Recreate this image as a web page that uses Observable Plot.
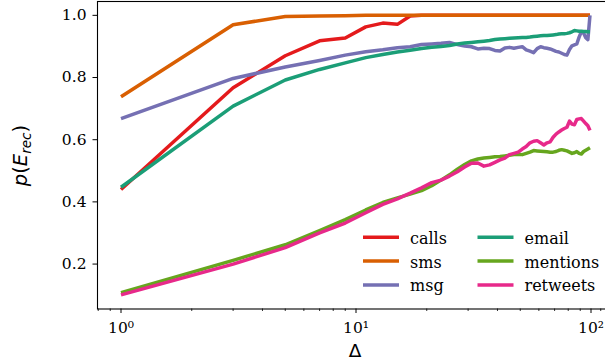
<!DOCTYPE html>
<html>
<head>
<meta charset="utf-8">
<script src="https://cdn.jsdelivr.net/npm/d3@7"></script>
<script src="https://cdn.jsdelivr.net/npm/@observablehq/plot@0.6"></script>
<style>
  html, body { margin: 0; padding: 0; background: #fff; overflow: hidden; width: 605px; height: 362px; }
  #chart svg { display: block; max-width: none !important; }
</style>
</head>
<body>
<div id="chart"></div>
<script>
// ---- data ----
const deltas = [1,3,5,7,9,11,13,15,17,19,21,23,25,27,29,31,33,35,37,39,41,43,45,47,49,
                51,53,55,57,59,61,63,65,67,69,71,73,75,77,79,81,83,85,87,89,91,93,95,97,99];

const calls = [0.440,0.767,0.870,0.918,0.927,0.963,0.975,0.971,0.998,1.0,1.0,1.0,1.0,1.0,1.0,1.0,1.0,1.0,1.0,1.0,1.0,1.0,1.0,1.0,1.0,
               1.0,1.0,1.0,1.0,1.0,1.0,1.0,1.0,1.0,1.0,1.0,1.0,1.0,1.0,1.0,1.0,1.0,1.0,1.0,1.0,1.0,1.0,1.0,1.0,1.0];
const sms = [0.738,0.970,0.996,0.998,0.999,1.0,1.0,1.0,1.0,1.0,1.0,1.0,1.0,1.0,1.0,1.0,1.0,1.0,1.0,1.0,1.0,1.0,1.0,1.0,1.0,
             1.0,1.0,1.0,1.0,1.0,1.0,1.0,1.0,1.0,1.0,1.0,1.0,1.0,1.0,1.0,1.0,1.0,1.0,1.0,1.0,1.0,1.0,1.0,1.0,1.0];
const msg = [0.668,0.797,0.834,0.855,0.872,0.883,0.889,0.896,0.899,0.906,0.908,0.910,0.913,0.906,0.901,0.899,0.892,0.894,0.893,0.887,0.885,0.895,0.897,0.894,0.897,
             0.899,0.889,0.885,0.880,0.893,0.899,0.896,0.894,0.892,0.888,0.884,0.882,0.878,0.874,0.872,0.890,0.902,0.905,0.908,0.930,0.947,0.943,0.928,0.922,1.0];
const email = [0.447,0.708,0.792,0.826,0.847,0.864,0.874,0.882,0.888,0.893,0.897,0.900,0.903,0.908,0.911,0.913,0.915,0.917,0.919,0.922,0.924,0.925,0.926,0.927,0.928,
               0.929,0.929,0.930,0.932,0.933,0.934,0.935,0.935,0.936,0.937,0.938,0.940,0.941,0.941,0.942,0.944,0.947,0.951,0.950,0.949,0.949,0.948,0.948,0.947,0.947];
const mentions = [0.108,0.212,0.262,0.308,0.343,0.374,0.398,0.413,0.425,0.436,0.452,0.470,0.487,0.505,0.520,0.532,0.538,0.541,0.543,0.545,0.546,0.548,0.550,0.552,0.553,
                  0.552,0.556,0.560,0.565,0.564,0.563,0.562,0.561,0.560,0.560,0.562,0.566,0.568,0.566,0.564,0.560,0.556,0.558,0.562,0.556,0.554,0.562,0.566,0.570,0.574];
const retweets = [0.101,0.200,0.253,0.300,0.332,0.365,0.392,0.410,0.428,0.445,0.462,0.470,0.483,0.497,0.512,0.524,0.525,0.515,0.519,0.527,0.535,0.541,0.552,0.556,0.560,
                  0.570,0.578,0.590,0.595,0.597,0.590,0.583,0.590,0.593,0.608,0.618,0.625,0.631,0.636,0.640,0.660,0.650,0.648,0.665,0.667,0.668,0.660,0.652,0.645,0.630];

const seriesNames = ["calls","sms","msg","email","mentions","retweets"];
const seriesColors = ["#e41a1c","#d95f02","#7570b3","#1b9e77","#66a61e","#e7298a"];
const seriesValues = [calls, sms, msg, email, mentions, retweets];

const yTicks = [0.2, 0.4, 0.6, 0.8, 1.0];
const xMajorTicks = [1, 10, 100];
const xMajorLabels = ["10\u2070", "10\u00b9", "10\u00b2"];
const xMinorTicks = [0.8, 0.9, 2,3,4,5,6,7,8,9, 20,30,40,50,60,70,80,90, 110, 120];

// ---- build ----
const rows = [];
seriesNames.forEach((name, s) => {
  deltas.forEach((d, i) => rows.push({series: name, delta: d, p: seriesValues[s][i]}));
});

const lineMarks = seriesNames.map((name, s) =>
  Plot.line(rows.filter(r => r.series === name), {
    x: "delta", y: "p", stroke: seriesColors[s], strokeWidth: 3.5,
    strokeLinejoin: "round", strokeLinecap: "butt"
  })
);

const svg = Plot.plot({
  width: 605,
  height: 362,
  marginLeft: 97,
  marginRight: -9,
  marginTop: 1,
  marginBottom: 53.5,
  style: {fontFamily: "DejaVu Serif, serif", fontSize: "15.5px", maxWidth: "none", color: "#000", background: "#fff"},
  x: {type: "log", domain: [Math.pow(10, -0.1), Math.pow(10, 2.1)]},
  y: {domain: [0.0555, 1.0445]},
  marks: [
    ...lineMarks,
    Plot.axisX({ticks: xMinorTicks, tickSize: 2.5, text: null, label: null, strokeWidth: 0.8}),
    Plot.axisX({ticks: xMajorTicks, tickSize: 4.5, tickPadding: 8.5, label: null, strokeWidth: 1,
                tickFormat: d => xMajorLabels[xMajorTicks.indexOf(d)], fontSize: 15.5}),
    Plot.axisY({ticks: yTicks, tickSize: 4.5, tickPadding: 6.5, label: null, strokeWidth: 1,
                tickFormat: d => d.toFixed(1), fontSize: 15.5}),
    Plot.frame({stroke: "#000", strokeWidth: 1.1})
  ]
});
svg.style.maxWidth = "none";

const root = d3.select(svg);

// y axis label p(E_rec)
const yl = root.append("text")
  .attr("transform", "translate(27,155.5) rotate(-90)")
  .attr("text-anchor", "middle")
  .attr("font-family", "DejaVu Sans, sans-serif")
  .attr("font-size", 19.5)
  .attr("fill", "#000");
yl.append("tspan").attr("font-style", "italic").text("p");
yl.append("tspan").text("(");
yl.append("tspan").attr("font-style", "italic").text("E");
yl.append("tspan").attr("font-style", "italic").attr("font-size", 13.6).attr("dy", 4).text("rec");
yl.append("tspan").attr("dy", -4).text(")");

// x axis label
root.append("text")
  .attr("x", 355).attr("y", 356.5)
  .attr("text-anchor", "middle")
  .attr("font-family", "DejaVu Sans, sans-serif")
  .attr("font-size", 18.5)
  .attr("fill", "#000")
  .text("\u0394");

// legend
const leg = root.append("g").attr("text-anchor", "start");
const colX = [363, 477.5];
const rowY = [237.3, 261.1, 284.9];
seriesNames.forEach((name, s) => {
  const cx = colX[Math.floor(s / 3)];
  const cy = rowY[s % 3];
  leg.append("line").attr("x1", cx).attr("x2", cx + 36).attr("y1", cy).attr("y2", cy)
     .attr("stroke", seriesColors[s]).attr("stroke-width", 3.5);
  leg.append("text").attr("x", cx + 47).attr("y", cy + 6.5)
     .attr("text-anchor", "start")
     .attr("font-family", "DejaVu Serif, serif").attr("font-size", 16).attr("fill", "#000")
     .text(name);
});

document.getElementById("chart").append(svg);
</script>
</body>
</html>
